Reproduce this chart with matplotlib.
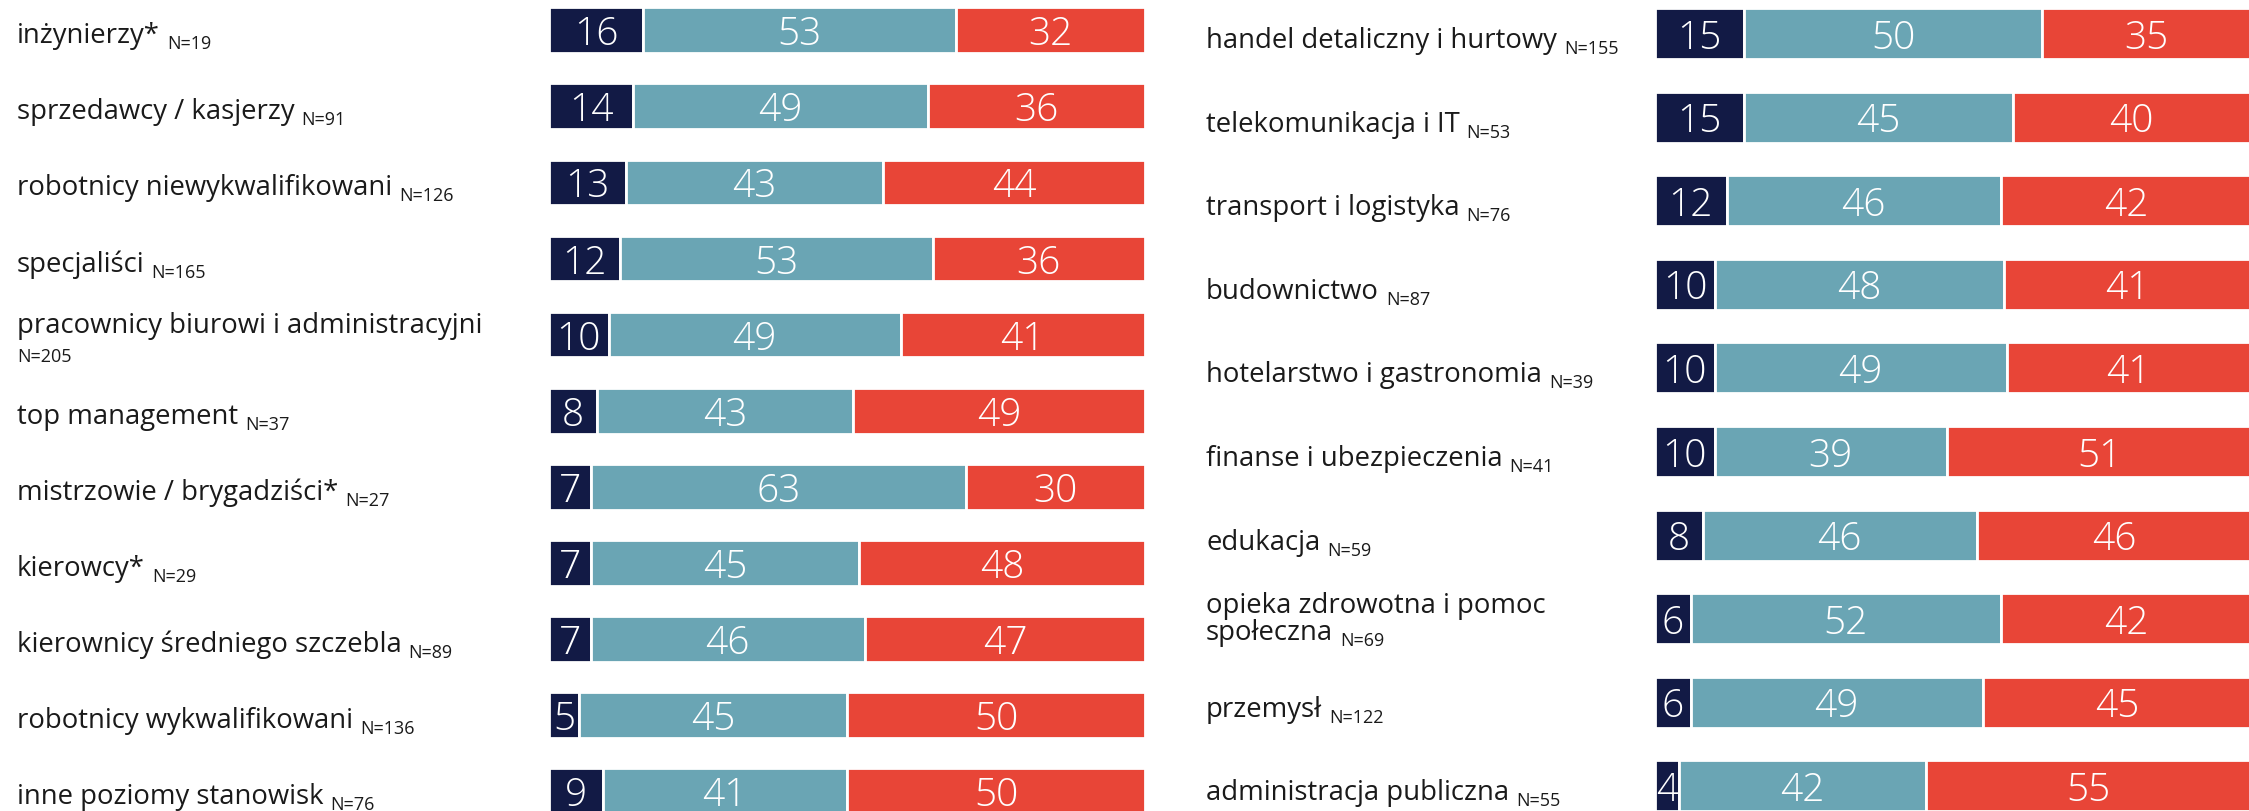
import matplotlib
matplotlib.use('Agg')
import matplotlib.pyplot as plt
import matplotlib.transforms as mtransforms

# ---------------- data ----------------
left_labels = ["inżynierzy*", "sprzedawcy / kasjerzy", "robotnicy niewykwalifikowani",
               "specjaliści", "pracownicy biurowi i administracyjni\n", "top management",
               "mistrzowie / brygadziści*", "kierowcy*", "kierownicy średniego szczebla",
               "robotnicy wykwalifikowani", "inne poziomy stanowisk"]
left_n = [19, 91, 126, 165, 205, 37, 27, 29, 89, 136, 76]
left_dark = [16, 14, 13, 12, 10, 8, 7, 7, 7, 5, 9]
left_mid = [53, 49, 43, 53, 49, 43, 63, 45, 46, 45, 41]
left_red = [32, 36, 44, 36, 41, 49, 30, 48, 47, 50, 50]

right_labels = ["handel detaliczny i hurtowy", "telekomunikacja i IT", "transport i logistyka",
                "budownictwo", "hotelarstwo i gastronomia", "finanse i ubezpieczenia",
                "edukacja", "opieka zdrowotna i pomoc\nspołeczna", "przemysł",
                "administracja publiczna"]
right_n = [155, 53, 76, 87, 39, 41, 59, 69, 122, 55]
right_dark = [15, 15, 12, 10, 10, 10, 8, 6, 6, 4]
right_mid = [50, 45, 46, 48, 49, 39, 46, 52, 49, 42]
right_red = [35, 40, 42, 41, 41, 51, 46, 42, 45, 55]

colors = ["#121a45", "#6aa5b4", "#e84537"]

# ---------------- style ----------------
W, H = 2249, 812
plt.rcParams['font.family'] = ['Open Sans', 'DejaVu Sans']
fig = plt.figure(figsize=(W / 100, H / 100), dpi=100)
renderer = fig.canvas.get_renderer()

LABEL_FS = 19.8
N_FS = 13
NUM_FS = 28
TXT_COL = "#1a1a1a"


def panel(x0_px, ylim, bar_h, labels, ns, d, m, r, label_x_px, one_off, two_offs):
    ax = fig.add_axes([x0_px / W, 0, 596 / W, 1])
    ax.set_xlim(0, 100)
    ax.set_ylim(*ylim)
    ax.axis('off')
    n = len(labels)
    ys = list(range(n))
    totals = [a + b + c for a, b, c in zip(d, m, r)]
    left = [0.0] * n
    for vals, col in zip([d, m, r], colors):
        shares = [v / t * 100 for v, t in zip(vals, totals)]
        ax.barh(ys, shares, left=left, height=bar_h, color=col,
                edgecolor='white', linewidth=2)
        num_tr = mtransforms.offset_copy(ax.transData, fig=fig, x=0, y=-14, units='dots')
        for y, s, l, v in zip(ys, shares, left, vals):
            ax.text(l + s / 2, y, str(v), ha='center', va='baseline', color='white',
                    fontsize=NUM_FS, fontweight='light', transform=num_tr, clip_on=False)
        left = [l + s for l, s in zip(left, shares)]

    blend = mtransforms.blended_transform_factory(fig.transFigure, ax.transData)
    for y, lab, nn in zip(ys, labels, ns):
        lines = lab.split("\n")
        offs = [one_off] if len(lines) == 1 else two_offs
        last = None
        for line, off in zip(lines, offs):
            tr = mtransforms.offset_copy(blend, fig=fig, x=0, y=off, units='dots')
            if line:
                last = fig.text(label_x_px / W, y, line, fontsize=LABEL_FS, color=TXT_COL,
                                ha='left', va='baseline', transform=tr)
            else:
                last = None
            last_off = off
        ntxt = f"N={nn}"
        if last is not None:
            bb = last.get_window_extent(renderer)
            tr = mtransforms.offset_copy(blend, fig=fig, x=0, y=last_off - 6, units='dots')
            fig.text((bb.x1 + 7) / W, y, ntxt, fontsize=N_FS, color=TXT_COL,
                     ha='left', va='baseline', transform=tr)
        else:
            tr = mtransforms.offset_copy(blend, fig=fig, x=0, y=last_off, units='dots')
            fig.text(label_x_px / W, y, ntxt, fontsize=N_FS, color=TXT_COL,
                     ha='left', va='baseline', transform=tr)
    return ax


panel(549, (10.26, -0.41), 0.6, left_labels, left_n, left_dark, left_mid, left_red,
      17, -12, [3, -26])
panel(1655, (9.30, -0.413), 0.61, right_labels, right_n, right_dark, right_mid, right_red,
      1206, -13.5, [7, -20])

fig.savefig("out.png", dpi=100)
